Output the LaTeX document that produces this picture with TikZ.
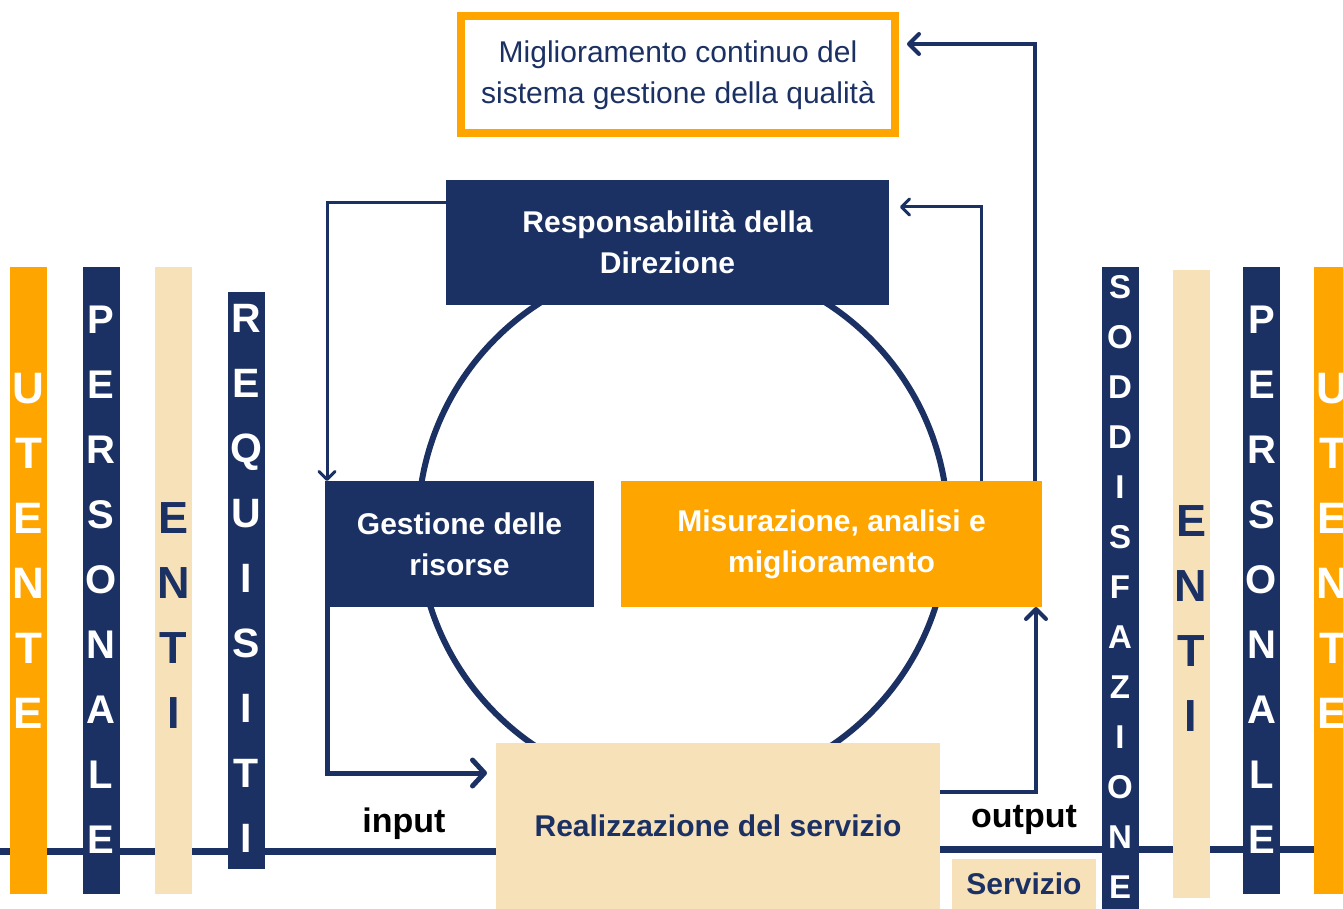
\documentclass[tikz,border=0pt]{standalone}
\usepackage{fontspec}
\setmainfont{Liberation Sans}
\usepackage{tikz}
\usetikzlibrary{arrows.meta,calc,positioning}
\definecolor{navy}{RGB}{28,49,99}
\definecolor{gold}{RGB}{255,165,0}
\definecolor{sand}{RGB}{247,225,185}
\tikzset{%
	bar/.style      = {rectangle, minimum width=37pt, inner sep=0pt, outer sep=0pt},
	letter/.style   = {inner sep=0pt, text depth=0pt, font=\bfseries\fontsize{#1}{#1}\selectfont},
	box/.style      = {rectangle, inner sep=0pt, outer sep=0pt, align=center, font=\bfseries\fontsize{30}{41}\selectfont},
	hline/.style    = {draw=navy, line width=7pt},
	flow/.style     = {draw=navy, line width=#1, line join=miter},
	tipS/.style     = {-{Straight Barb[length=8pt,width=16pt,round]}},
	tipM/.style     = {-{Straight Barb[length=10pt,width=20pt,round]}},
	tipL/.style     = {-{Straight Barb[length=12pt,width=26pt,round]}},
}
\begin{document}
\begin{tikzpicture}[x=1pt,y=-1pt]
	\clip (0,0) rectangle (1343,909);
	\fill[white] (0,0) rectangle (1343,909);

	% ciclo
	\node[circle, draw=navy, line width=6pt, minimum size=530pt, inner sep=0pt] (ring) at (683,526) {};
	\node[box, fill=sand, text=navy, minimum width=444pt, minimum height=166pt] (real) at (718,826) {Realizzazione del servizio};

	% linea input / output
	\draw[hline] (0,851) -- (real.west |- 0,851);
	\draw[hline] (real.east |- 0,849.5) -- (1343,849.5);

	% colonne a sinistra
	\node[bar, fill=gold, minimum height=627pt] (utL) at (28.5,580.5) {};
	\foreach \ch [count=\i from 0] in {U,T,E,N,T,E}
		\node[letter=44, text=white] (utL-\i) at (28.5,388+65*\i) {\ch};
	\node[bar, fill=navy, minimum height=627pt] (peL) at (101,580.5) {};
	\foreach \ch [count=\i from 0] in {P,E,R,S,O,N,A,L,E}
		\node[letter=40, text=white] (peL-\i) at (101,320+65*\i) {\ch};
	\node[bar, fill=sand, minimum height=627pt] (enL) at (173.5,580.5) {};
	\foreach \ch [count=\i from 0] in {E,N,T,I}
		\node[letter=45, text=navy] (enL-\i) at (173.5,518+65*\i) {\ch};
	\node[bar, fill=navy, minimum height=577pt] (req) at (246,580.5) {};
	\foreach \ch [count=\i from 0] in {R,E,Q,U,I,S,I,T,I}
		\node[letter=41, text=white] (req-\i) at (246,318+65*\i) {\ch};

	% colonne a destra
	\node[bar, fill=navy, minimum height=642pt] (sod) at (1120,588) {};
	\foreach \ch [count=\i from 0] in {S,O,D,D,I,S,F,A,Z,I,O,N,E}
		\node[letter=33, text=white] (sod-\i) at (1120,287+50*\i) {\ch};
	\node[bar, fill=sand, minimum height=628pt] (enR) at (1191,584) {};
	\foreach \ch [count=\i from 0] in {E,N,T,I}
		\node[letter=45, text=navy] (enR-\i) at (1191,521+65*\i) {\ch};
	\node[bar, fill=navy, minimum height=627pt] (peR) at (1261.5,580.5) {};
	\foreach \ch [count=\i from 0] in {P,E,R,S,O,N,A,L,E}
		\node[letter=40, text=white] (peR-\i) at (1261.5,320+65*\i) {\ch};
	\node[bar, fill=gold, minimum height=627pt] (utR) at (1332.5,580.5) {};
	\foreach \ch [count=\i from 0] in {U,T,E,N,T,E}
		\node[letter=44, text=white] (utR-\i) at (1332.5,388+65*\i) {\ch};

	% blocchi
	\node[box, draw=gold, line width=8pt, text=navy, font=\fontsize{30}{41}\selectfont, minimum width=434pt, minimum height=117pt] (sgq) at (678,75) {Miglioramento continuo del\\sistema gestione della qualità};
	\node[box, fill=navy, text=white, minimum width=443pt, minimum height=125pt] (resp) at (667.5,242.5) {Responsabilità della\\Direzione};
	\node[box, fill=navy, text=white, minimum width=269pt, minimum height=126pt] (gest) at (459.5,544) {Gestione delle\\risorse};
	\node[box, fill=gold, text=white, minimum width=421pt, minimum height=126pt] (mis) at (831.5,544) {Misurazione, analisi e\\miglioramento};
	\node[box, fill=sand, text=navy, minimum width=144pt, minimum height=50pt] (serv) at (1024,884) {Servizio};
	\node[font=\bfseries\fontsize{34}{34}\selectfont, inner sep=0pt] (in) at (404,824) {input};
	\node[font=\bfseries\fontsize{34}{34}\selectfont, inner sep=0pt] (out) at (1024,820) {output};

	% frecce
	\draw[flow=3pt, tipS] (resp.west |- 0,203) -| (gest.north -| 327,0);
	\draw[flow=5pt, tipL, shorten >=9pt] (gest.south -| 327,0) |- (real.west |- 0,773);
	\draw[flow=4pt, tipM] (real.east |- 0,792) -| (mis.south -| 1036,0);
	\draw[flow=3pt, tipS, shorten >=11pt] (mis.north -| 981,0) |- (resp.east |- 0,207);
	\draw[flow=4pt, tipM, shorten >=12pt] (mis.north -| 1035,0) |- (sgq.east |- 0,44);
\end{tikzpicture}
\end{document}
